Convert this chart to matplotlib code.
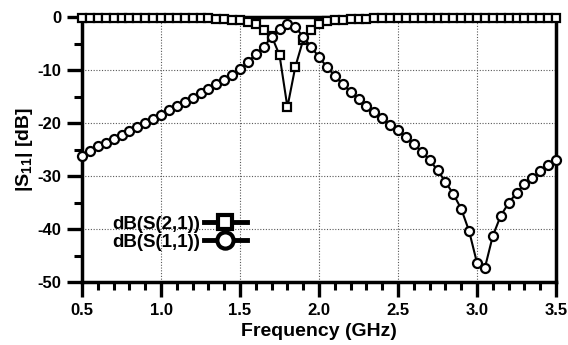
import numpy as np
import matplotlib.pyplot as plt
from matplotlib.ticker import MultipleLocator

plt.rcParams['font.family'] = ['Liberation Sans', 'DejaVu Sans']
plt.rcParams['font.weight'] = 'bold'
plt.rcParams['axes.unicode_minus'] = False
plt.rcParams['mathtext.fontset'] = 'custom'
plt.rcParams['mathtext.rm'] = 'Liberation Sans:bold'
plt.rcParams['mathtext.bf'] = 'Liberation Sans:bold'
plt.rcParams['mathtext.it'] = 'Liberation Sans:bold'

# frequency sweep (GHz), 0.05 GHz step
freq = np.linspace(0.5, 3.5, 61)

# dB(S(2,1)) - squares
s21 = [-0.1, -0.1, -0.1, -0.1, -0.1, -0.1, -0.1, -0.1, -0.1, -0.1,
       -0.1, -0.2, -0.2, -0.2, -0.2, -0.2, -0.2, -0.3, -0.4, -0.5,
       -0.6, -0.9, -1.3, -2.5, -3.6, -7.2, -17.0, -9.4, -4.3, -2.5,
       -1.3, -0.8, -0.6, -0.5, -0.4, -0.3, -0.3, -0.2, -0.2, -0.2,
       -0.2, -0.2, -0.2, -0.2, -0.2, -0.2, -0.2, -0.2, -0.1, -0.1,
       -0.1, -0.1, -0.1, -0.1, -0.1, -0.1, -0.1, -0.1, -0.1, -0.1,
       -0.1]

# dB(S(1,1)) - circles
s11 = [-26.2, -25.2, -24.4, -23.7, -23.0, -22.3, -21.5, -20.8, -20.0, -19.2,
       -18.4, -17.6, -16.8, -16.0, -15.2, -14.4, -13.6, -12.7, -11.8, -10.9,
       -9.9, -8.5, -7.0, -5.6, -3.8, -2.3, -1.3, -1.8, -3.8, -5.6,
       -7.6, -9.4, -11.1, -12.7, -14.1, -15.5, -16.7, -17.9, -19.1, -20.3,
       -21.4, -22.6, -24.0, -25.4, -27.0, -28.9, -31.1, -33.4, -36.2, -40.4,
       -46.4, -47.3, -41.3, -37.5, -35.1, -33.2, -31.6, -30.3, -29.1, -28.0,
       -27.0]

fig = plt.figure(figsize=(5.68, 3.45), dpi=100)
ax = fig.add_axes([0.1444, 0.1826, 0.8345, 0.7681])

ax.plot(freq, s21, color='black', lw=1.5, marker='s', ms=5.5, mfc='white',
        mec='black', mew=1.6, clip_on=False, zorder=3, label='dB(S(2,1))')
ax.plot(freq, s11, color='black', lw=1.5, marker='o', ms=6.5, mfc='white',
        mec='black', mew=1.6, clip_on=False, zorder=3, label='dB(S(1,1))')

ax.set_xlim(0.5, 3.5)
ax.set_ylim(-50, 0)
ax.xaxis.set_major_locator(MultipleLocator(0.5))
ax.xaxis.set_minor_locator(MultipleLocator(0.1))
ax.yaxis.set_major_locator(MultipleLocator(10))
ax.yaxis.set_minor_locator(MultipleLocator(5))
ax.xaxis.set_major_formatter(plt.FormatStrFormatter('%.1f'))

ax.tick_params(which='major', direction='out', length=11, width=2.4,
               labelsize=12, pad=4)
ax.tick_params(which='minor', direction='out', length=6, width=2.2)
ax.tick_params(right=False, top=False)

for sp in ax.spines.values():
    sp.set_linewidth(2.5)

ax.grid(True, which='major', color='0.35', ls=(0, (1, 1.5)), lw=0.8)

ax.set_xlabel('Frequency (GHz)', fontsize=14, fontweight='bold', labelpad=4)
ax.set_ylabel(r'$|S_{11}|$ [dB]', fontsize=14, fontweight='bold', labelpad=2)

leg = ax.legend(loc='center left', bbox_to_anchor=(0.063, 0.185),
                frameon=False, markerfirst=False, fontsize=13.5,
                handlelength=2.3, handletextpad=0.2, labelspacing=0.05,
                borderpad=0, borderaxespad=0, markerscale=1.8)
for h in leg.get_lines():
    h.set_linewidth(3.5)
    h.set_markeredgewidth(3)
for t in leg.get_texts():
    t.set_fontweight('bold')

fig.savefig('out.png', dpi=100)
